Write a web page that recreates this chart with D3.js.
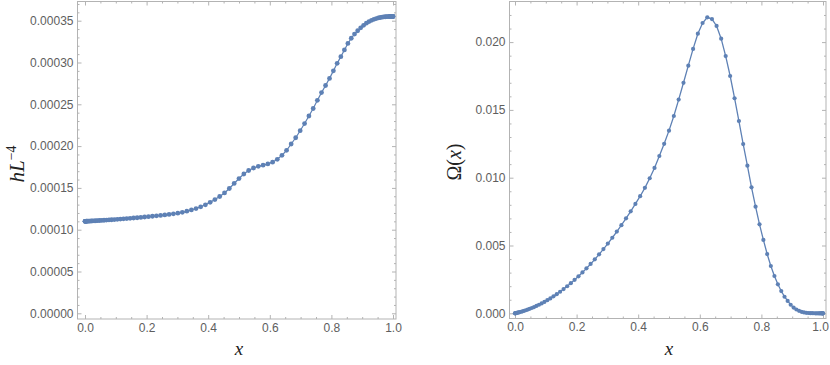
<!DOCTYPE html>
<html>
<head>
<meta charset="utf-8">
<script src="https://cdn.jsdelivr.net/npm/d3@7"></script>
<style>
  html, body { margin: 0; padding: 0; background: #fff; }
  svg { display: block; }
</style>
</head>
<body>
<svg id="chart" width="830" height="365"></svg>
<script>
// ---------- data ----------
const xNodes = [
  0, 0.00025, 0.00099, 0.00222, 0.00394, 0.00616, 0.00886, 0.01204, 0.01571, 0.01985,
  0.02447, 0.02956, 0.03511, 0.04112, 0.04759, 0.05450, 0.06185, 0.06963, 0.07784, 0.08646,
  0.09549, 0.10492, 0.11474, 0.12494, 0.13552, 0.14645, 0.15773, 0.16934, 0.18129, 0.19355,
  0.20611, 0.21896, 0.23209, 0.24548, 0.25912, 0.27300, 0.28711, 0.30143, 0.31594, 0.33063,
  0.34549, 0.36050, 0.37566, 0.39093, 0.40631, 0.42178, 0.43733, 0.45295, 0.46860, 0.48430,
  0.5, 0.51570, 0.53140, 0.54705, 0.56267, 0.57822, 0.59369, 0.60907, 0.62434, 0.63950,
  0.65451, 0.66937, 0.68406, 0.69857, 0.71289, 0.72700, 0.74088, 0.75452, 0.76791, 0.78104,
  0.79389, 0.80645, 0.81871, 0.83066, 0.84227, 0.85355, 0.86448, 0.87506, 0.88526, 0.89508,
  0.90451, 0.91354, 0.92216, 0.93037, 0.93815, 0.94550, 0.95241, 0.95888, 0.96489, 0.97044,
  0.97553, 0.98015, 0.98429, 0.98796, 0.99114, 0.99384, 0.99606, 0.99778, 0.99901, 0.99975, 1
];

const hL4 = [
  11.00e-5, 11.00e-5, 11.00e-5, 11.00e-5, 11.01e-5, 11.01e-5, 11.02e-5, 11.02e-5, 11.03e-5, 11.04e-5,
  11.05e-5, 11.06e-5, 11.07e-5, 11.08e-5, 11.10e-5, 11.11e-5, 11.13e-5, 11.15e-5, 11.17e-5, 11.19e-5,
  11.21e-5, 11.24e-5, 11.27e-5, 11.30e-5, 11.33e-5, 11.36e-5, 11.40e-5, 11.43e-5, 11.47e-5, 11.52e-5,
  11.56e-5, 11.61e-5, 11.66e-5, 11.71e-5, 11.77e-5, 11.83e-5, 11.90e-5, 11.98e-5, 12.08e-5, 12.21e-5,
  12.36e-5, 12.53e-5, 12.74e-5, 12.98e-5, 13.27e-5, 13.60e-5, 13.97e-5, 14.40e-5, 14.93e-5, 15.53e-5,
  16.12e-5, 16.66e-5, 17.08e-5, 17.38e-5, 17.58e-5, 17.72e-5, 17.87e-5, 18.08e-5, 18.42e-5, 18.90e-5,
  19.50e-5, 20.25e-5, 21.00e-5, 21.84e-5, 22.70e-5, 23.60e-5, 24.50e-5, 25.48e-5, 26.40e-5, 27.25e-5,
  28.10e-5, 29.00e-5, 29.90e-5, 30.70e-5, 31.50e-5, 32.28e-5, 32.90e-5, 33.40e-5, 33.80e-5, 34.15e-5,
  34.45e-5, 34.70e-5, 34.90e-5, 35.05e-5, 35.17e-5, 35.26e-5, 35.33e-5, 35.38e-5, 35.42e-5, 35.45e-5,
  35.47e-5, 35.48e-5, 35.49e-5, 35.50e-5, 35.50e-5, 35.50e-5, 35.50e-5, 35.50e-5, 35.50e-5, 35.50e-5, 35.50e-5
];

const omega = [
  0, 0.001e-3, 0.005e-3, 0.011e-3, 0.020e-3, 0.032e-3, 0.047e-3, 0.066e-3, 0.088e-3, 0.115e-3,
  0.146e-3, 0.183e-3, 0.225e-3, 0.273e-3, 0.329e-3, 0.391e-3, 0.462e-3, 0.542e-3, 0.632e-3, 0.731e-3,
  0.842e-3, 0.965e-3, 1.100e-3, 1.249e-3, 1.412e-3, 1.590e-3, 1.784e-3, 1.994e-3, 2.221e-3, 2.466e-3,
  2.730e-3, 3.013e-3, 3.315e-3, 3.638e-3, 3.981e-3, 4.346e-3, 4.733e-3, 5.141e-3, 5.572e-3, 6.026e-3,
  6.502e-3, 7.001e-3, 7.523e-3, 8.068e-3, 8.635e-3, 9.25e-3, 9.96e-3, 10.72e-3, 11.60e-3, 12.50e-3,
  13.47e-3, 14.55e-3, 15.76e-3, 17.00e-3, 18.26e-3, 19.50e-3, 20.62e-3, 21.41e-3, 21.83e-3, 21.70e-3,
  21.19e-3, 20.25e-3, 18.97e-3, 17.50e-3, 15.86e-3, 14.18e-3, 12.48e-3, 10.89e-3, 9.29e-3, 7.86e-3,
  6.56e-3, 5.41e-3, 4.37e-3, 3.49e-3, 2.75e-3, 2.14e-3, 1.64e-3, 1.22e-3, 0.91e-3, 0.63e-3,
  0.42e-3, 0.28e-3, 0.18e-3, 0.11e-3, 0.065e-3, 0.038e-3, 0.021e-3, 0.011e-3, 0.006e-3, 0.003e-3,
  0.0015e-3, 0.0007e-3, 0.0003e-3, 0.0001e-3, 0, 0, 0, 0, 0, 0, 0
];

const xMajorTicks = [0, 0.2, 0.4, 0.6, 0.8, 1.0];
const xMinorTicks = [0.05, 0.1, 0.15, 0.25, 0.3, 0.35, 0.45, 0.5, 0.55, 0.65, 0.7, 0.75, 0.85, 0.9, 0.95];
const hMajorTicks = [0, 0.00005, 0.0001, 0.00015, 0.0002, 0.00025, 0.0003, 0.00035];
const hMinorTicks = [0.00001, 0.00002, 0.00003, 0.00004, 0.00006, 0.00007, 0.00008, 0.00009,
  0.00011, 0.00012, 0.00013, 0.00014, 0.00016, 0.00017, 0.00018, 0.00019,
  0.00021, 0.00022, 0.00023, 0.00024, 0.00026, 0.00027, 0.00028, 0.00029,
  0.00031, 0.00032, 0.00033, 0.00034, 0.00036, 0.00037];
const oMajorTicks = [0, 0.005, 0.01, 0.015, 0.02];
const oMinorTicks = [0.001, 0.002, 0.003, 0.004, 0.006, 0.007, 0.008, 0.009,
  0.011, 0.012, 0.013, 0.014, 0.016, 0.017, 0.018, 0.019, 0.021, 0.022];

// ---------- drawing ----------
const svg = d3.select("#chart");
const COLOR = "#5e81b5";
const FRAME = "#b3b3b3";
const LABEL = "#5e5e5e";
const SERIF = "'Liberation Serif', 'Times New Roman', serif";

function panel(opts) {
  const g = svg.append("g");
  const x = d3.scaleLinear().domain([0, 1]).range(opts.xRange);
  const y = d3.scaleLinear().domain(opts.yDomain).range(opts.yRange);
  const f = opts.frame; // [left, top, right, bottom]

  g.append("rect")
    .attr("x", f[0]).attr("y", f[1])
    .attr("width", f[2] - f[0]).attr("height", f[3] - f[1])
    .attr("fill", "none").attr("stroke", FRAME).attr("stroke-width", 1);

  function styleAxis(sel, labels) {
    sel.select(".domain").remove();
    sel.selectAll(".tick line").attr("stroke", FRAME);
    sel.selectAll(".tick text")
      .attr("fill", LABEL)
      .style("font-family", "'Liberation Sans', Arial, sans-serif")
      .style("font-size", "12px");
    if (!labels) sel.selectAll(".tick text").remove();
  }

  // bottom
  const bx = g.append("g").attr("transform", `translate(0,${f[3]})`)
    .call(d3.axisBottom(x).tickValues(xMajorTicks).tickSize(-4).tickPadding(4).tickFormat(d3.format(".1f")))
    .call(s => styleAxis(s, true));
  if (opts.lastLabelShift) {
    bx.selectAll(".tick text").filter(d => d === 1).attr("dx", opts.lastLabelShift);
  }
  g.append("g").attr("transform", `translate(0,${f[3]})`)
    .call(d3.axisBottom(x).tickValues(xMinorTicks).tickSize(-2).tickFormat(""))
    .call(s => styleAxis(s, false));
  // top
  g.append("g").attr("transform", `translate(0,${f[1]})`)
    .call(d3.axisTop(x).tickValues(xMajorTicks).tickSize(-4).tickFormat(""))
    .call(s => styleAxis(s, false));
  g.append("g").attr("transform", `translate(0,${f[1]})`)
    .call(d3.axisTop(x).tickValues(xMinorTicks).tickSize(-2).tickFormat(""))
    .call(s => styleAxis(s, false));
  // left
  g.append("g").attr("transform", `translate(${f[0]},0)`)
    .call(d3.axisLeft(y).tickValues(opts.yMajor).tickSize(-4).tickPadding(4).tickFormat(d3.format(opts.yFmt)))
    .call(s => styleAxis(s, true));
  g.append("g").attr("transform", `translate(${f[0]},0)`)
    .call(d3.axisLeft(y).tickValues(opts.yMinor).tickSize(-2).tickFormat(""))
    .call(s => styleAxis(s, false));
  // right
  g.append("g").attr("transform", `translate(${f[2]},0)`)
    .call(d3.axisRight(y).tickValues(opts.yMajor).tickSize(-4).tickFormat(""))
    .call(s => styleAxis(s, false));
  g.append("g").attr("transform", `translate(${f[2]},0)`)
    .call(d3.axisRight(y).tickValues(opts.yMinor).tickSize(-2).tickFormat(""))
    .call(s => styleAxis(s, false));

  const pts = xNodes.map((xv, i) => [xv, opts.values[i]]);
  const line = d3.line().x(d => x(d[0])).y(d => y(d[1]));
  g.append("path").datum(pts)
    .attr("d", line).attr("fill", "none")
    .attr("stroke", COLOR).attr("stroke-width", opts.lineWidth);
  g.append("g").selectAll("circle").data(pts).join("circle")
    .attr("cx", d => x(d[0])).attr("cy", d => y(d[1]))
    .attr("r", opts.r).attr("fill", COLOR);

  // x title
  g.append("text")
    .attr("x", (opts.xRange[0] + opts.xRange[1]) / 2).attr("y", 355)
    .attr("text-anchor", "middle")
    .style("font-family", SERIF)
    .style("font-style", "italic").style("font-size", "19px").attr("fill", "#222")
    .text("x");
  return g;
}

panel({
  xRange: [85, 393], yDomain: [0, 0.00035], yRange: [313.3, 20.7],
  frame: [77.5, 1.5, 396, 319],
  yMajor: hMajorTicks, yMinor: hMinorTicks, yFmt: ".5f",
  values: hL4, r: 2.4, lineWidth: 1.2
});
panel({
  xRange: [515, 823], yDomain: [0, 0.02], yRange: [313.3, 42.1],
  frame: [509.5, 1.5, 826, 318.5],
  yMajor: oMajorTicks, yMinor: oMinorTicks, yFmt: ".3f",
  values: omega, r: 2.1, lineWidth: 1.3, lastLabelShift: -3
});

// y titles
const tL = svg.append("text")
  .attr("transform", "translate(24,164) rotate(-90)")
  .attr("text-anchor", "middle")
  .style("font-family", SERIF)
  .style("font-size", "21px").attr("fill", "#222");
tL.append("tspan").style("font-style", "italic").text("hL");
tL.append("tspan").attr("dy", -8).style("font-size", "14px").text("−4");

const tR = svg.append("text")
  .attr("transform", "translate(461,162) rotate(-90)")
  .attr("text-anchor", "middle")
  .style("font-family", SERIF)
  .style("font-size", "20px").attr("fill", "#222");
tR.append("tspan").text("Ω(");
tR.append("tspan").style("font-style", "italic").text("x");
tR.append("tspan").text(")");
</script>
</body>
</html>
